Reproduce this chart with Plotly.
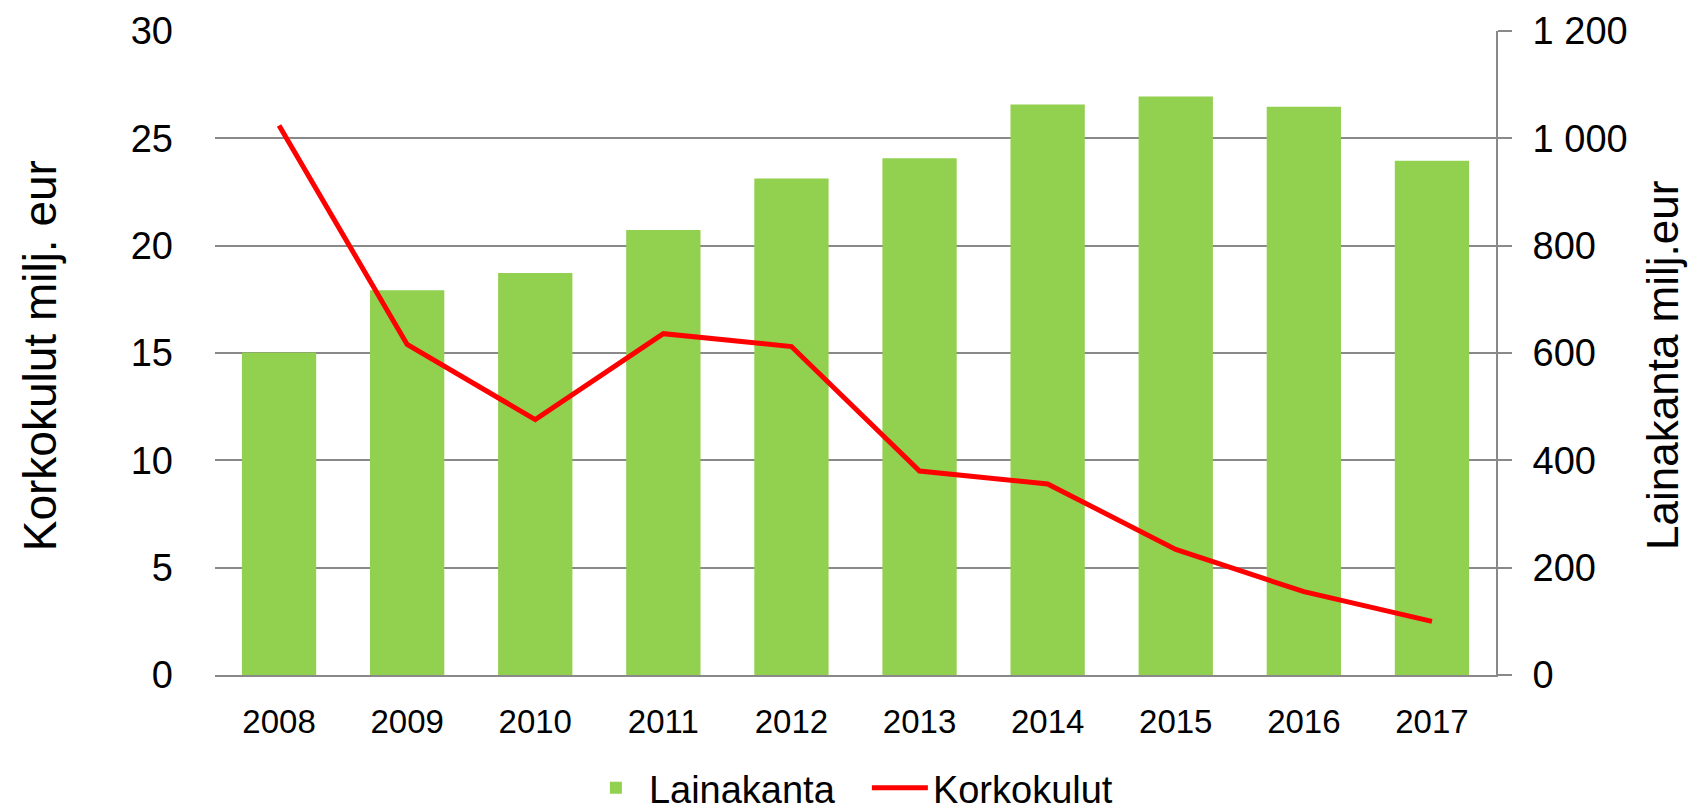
import plotly.graph_objects as go

years = ["2008", "2009", "2010", "2011", "2012", "2013", "2014", "2015", "2016", "2017"]
lainakanta = [601, 717, 749, 829, 925, 963, 1063, 1078, 1059, 958]
korkokulut = [25.6, 15.4, 11.9, 15.9, 15.3, 9.5, 8.9, 5.85, 3.88, 2.5]

right_tickvals = [0, 200, 400, 600, 800, 1000, 1200]
right_ticktext = ["0", "200", "400", "600", "800", "1 000", "1 200"]
left_tickvals = [0, 5, 10, 15, 20, 25, 30]

left_title = "Korkokulut milj. eur"
right_title = "Lainakanta milj.eur"

FONT = "Liberation Sans, Arial, sans-serif"
GRID = "#898989"

# page body has an 8px margin, so the figure is sized to fit the 1704x812 window
W, H = 1696, 804
ML, MT, PW, PH = 207, 23, 1281, 644

fig = go.Figure()
fig.add_trace(go.Bar(
    x=years, y=lainakanta, name="Lainakanta",
    marker=dict(color="#92D050", line=dict(width=0)),
    yaxis="y", legendwidth=213,
))
fig.add_trace(go.Scatter(
    x=years, y=korkokulut, name="Korkokulut", mode="lines",
    line=dict(color="#FF0000", width=5),
    yaxis="y2",
))

fig.update_layout(
    width=W, height=H,
    margin=dict(l=ML, r=W - ML - PW, t=MT, b=H - MT - PH, autoexpand=False),
    paper_bgcolor="white", plot_bgcolor="white",
    font=dict(family=FONT, color="black"),
    bargap=0.42,
    showlegend=True,
    legend=dict(orientation="h", x=0.496, xanchor="center", y=-0.1755, yanchor="middle",
                font=dict(size=38, family=FONT), itemwidth=56, traceorder="normal"),
    xaxis=dict(type="category", showline=True, linecolor=GRID, linewidth=2, automargin=False,
               ticks="", tickfont=dict(size=33, family=FONT), ticklabelstandoff=16,
               showgrid=False),
    yaxis=dict(side="right", range=[0, 1200], tickvals=right_tickvals, ticktext=right_ticktext,
               showgrid=True, gridcolor=GRID, gridwidth=2, zeroline=False, automargin=False,
               showline=True, linecolor=GRID, linewidth=2,
               ticks="outside", ticklen=14, tickwidth=2, tickcolor=GRID,
               tickfont=dict(size=38, family=FONT), ticklabelstandoff=13),
    yaxis2=dict(overlaying="y", side="left", anchor="x", range=[0, 30], tickvals=left_tickvals,
                showgrid=False, zeroline=False, showline=False, ticks="", automargin=False,
                tickfont=dict(size=38, family=FONT), ticklabelstandoff=41),
    annotations=[
        dict(text=left_title, xref="paper", yref="paper", x=-0.1366, y=0.495,
             xanchor="center", yanchor="middle", textangle=-90, showarrow=False,
             font=dict(size=46, family=FONT)),
        dict(text=right_title, xref="paper", yref="paper", x=1.1304, y=0.48,
             xanchor="center", yanchor="middle", textangle=-90, showarrow=False,
             font=dict(size=44, family=FONT)),
    ],
)

fig.write_html("out.html")
